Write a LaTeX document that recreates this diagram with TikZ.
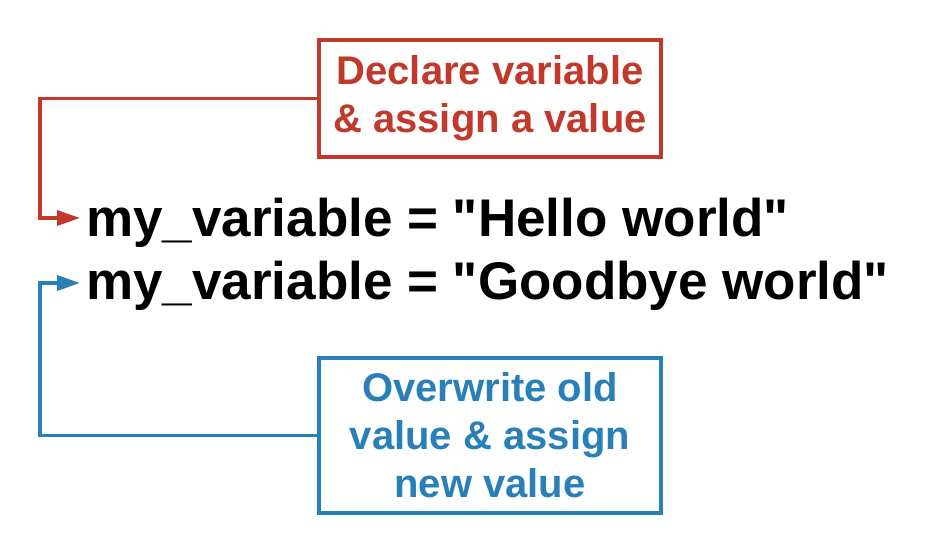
\documentclass[tikz,border=0pt]{standalone}
\usepackage{fontspec}
\setmainfont{Liberation Sans}[Ligatures=TeXOff]
\usetikzlibrary{arrows.meta}
\definecolor{cred}{HTML}{C0392B}
\definecolor{cblue}{HTML}{2980B9}
\tikzset{
  codeline/.style={anchor=base west, inner sep=0pt, font=\fontsize{53}{60}\selectfont\bfseries},
  labelbox/.style={draw, line width=3.5pt, minimum width=342pt, inner sep=0pt, align=center,
    font=\fontsize{40}{48}\selectfont\bfseries},
  conn/.style={line width=3.5pt, -{Triangle[length=23pt,width=15pt]}}
}
\begin{document}
\begin{tikzpicture}[x=1pt,y=-1pt]
\useasboundingbox (0,0) rectangle (940,553);
\node[codeline] (l1) at (86,237) {my\_variable = "Hello world"};
\node[codeline] (l2) at (86,300) {my\_variable = "Goodbye world"};
\node[labelbox, cred, minimum height=117pt] (b1) at (490,98.5) {Declare variable\\\& assign a value};
\node[labelbox, cblue, minimum height=155pt] (b2) at (490,435.5) {Overwrite old\\value \& assign\\new value};
\coordinate (t1) at (80,218);
\coordinate (t2) at (80,283);
\draw[conn, cred] (b1.west) -| (40,218) -- (t1);
\draw[conn, cblue] (b2.west) -| (40,283) -- (t2);
\end{tikzpicture}
\end{document}
